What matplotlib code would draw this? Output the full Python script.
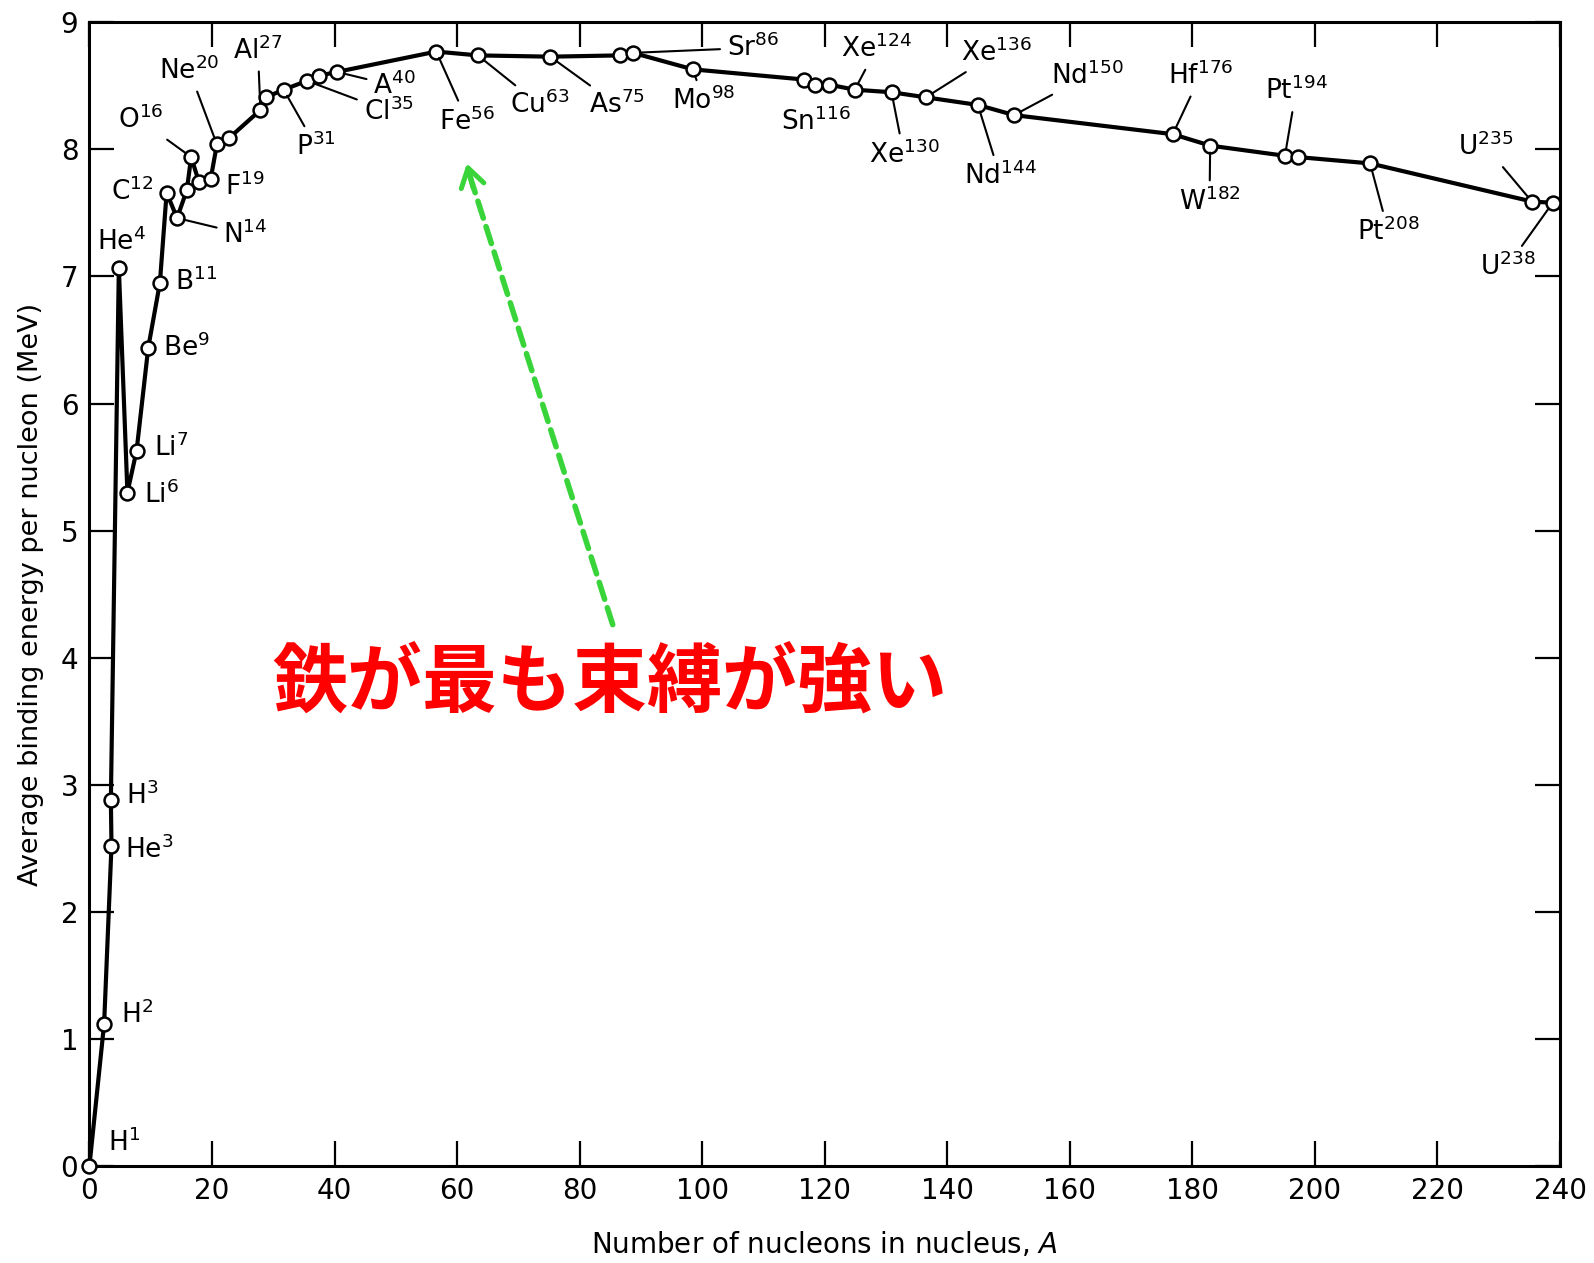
import matplotlib
matplotlib.use("Agg")
import matplotlib.pyplot as plt

plt.rcParams['font.family'] = ['DejaVu Sans']
plt.rcParams['mathtext.default'] = 'regular'

# nucleons A and binding energy per nucleon (MeV)
A = [0, 2.4, 3.6, 3.5, 4.8, 6.2, 7.7, 9.6, 11.5, 12.6, 14.3, 15.9, 16.6, 17.9, 19.8,
     20.8, 22.8, 27.9, 28.8, 31.7, 35.5, 37.5, 40.4, 56.6, 63.4, 75.2, 86.6, 88.7,
     98.5, 116.6, 118.4, 120.7, 124.9, 130.9, 136.5, 145.0, 150.9, 176.8, 182.9,
     195.1, 197.2, 209.0, 235.4, 238.8]
BE = [0, 1.12, 2.52, 2.88, 7.07, 5.30, 5.63, 6.44, 6.95, 7.66, 7.46, 7.68, 7.94, 7.74, 7.77,
      8.04, 8.09, 8.31, 8.41, 8.47, 8.54, 8.58, 8.61, 8.77, 8.74, 8.73, 8.74, 8.76,
      8.63, 8.55, 8.51, 8.51, 8.47, 8.45, 8.41, 8.35, 8.27, 8.12, 8.03,
      7.95, 7.94, 7.89, 7.59, 7.58]

# label text, index of point, text position, leader line or not
labels = [
    ("H$^{1}$", 0, (5.6, 0.18), False),
    ("H$^{2}$", 1, (7.8, 1.19), False),
    ("He$^{3}$", 2, (9.8, 2.49), False),
    ("H$^{3}$", 3, (8.6, 2.91), False),
    ("He$^{4}$", 4, (5.3, 7.27), False),
    ("Li$^{6}$", 5, (11.8, 5.28), False),
    ("Li$^{7}$", 6, (13.3, 5.65), False),
    ("Be$^{9}$", 7, (15.9, 6.44), False),
    ("B$^{11}$", 8, (17.4, 6.96), False),
    ("C$^{12}$", 9, (7.0, 7.67), False),
    ("N$^{14}$", 10, (25.5, 7.33), True),
    ("O$^{16}$", 12, (8.3, 8.23), True),
    ("F$^{19}$", 14, (25.4, 7.71), False),
    ("Ne$^{20}$", 15, (16.3, 8.62), True),
    ("Al$^{27}$", 17, (27.5, 8.78), True),
    ("P$^{31}$", 19, (37.0, 8.02), True),
    ("Cl$^{35}$", 20, (48.8, 8.30), True),
    ("A$^{40}$", 22, (49.8, 8.50), True),
    ("Fe$^{56}$", 23, (61.7, 8.22), True),
    ("Cu$^{63}$", 24, (73.5, 8.35), True),
    ("As$^{75}$", 25, (86.1, 8.35), True),
    ("Sr$^{86}$", 27, (108.3, 8.80), True),
    ("Mo$^{98}$", 28, (100.2, 8.38), True),
    ("Sn$^{116}$", 30, (118.6, 8.22), False),
    ("Xe$^{124}$", 32, (128.4, 8.79), True),
    ("Xe$^{130}$", 33, (132.9, 7.96), True),
    ("Xe$^{136}$", 34, (148.0, 8.76), True),
    ("Nd$^{144}$", 35, (148.6, 7.79), True),
    ("Nd$^{150}$", 36, (162.9, 8.58), True),
    ("Hf$^{176}$", 37, (181.3, 8.58), True),
    ("W$^{182}$", 38, (182.8, 7.59), True),
    ("Pt$^{194}$", 39, (196.9, 8.46), True),
    ("Pt$^{208}$", 41, (212.0, 7.35), True),
    ("U$^{235}$", 42, (227.9, 8.02), True),
    ("U$^{238}$", 43, (231.4, 7.08), True),
]

fig = plt.figure(figsize=(15.94, 12.63), dpi=100)
ax = fig.add_axes([0.0561, 0.0768, 0.9226, 0.9055])

ax.plot(A, BE, color='black', lw=3.0, zorder=3, solid_joinstyle='round')
ax.plot(A, BE, 'o', ms=10, mfc='white', mec='black', mew=1.8, zorder=4, clip_on=False)

for txt, i, pos, lead in labels:
    if lead:
        ax.annotate(txt, xy=(A[i], BE[i]), xytext=pos, ha='center', va='center',
                    fontsize=19, zorder=5,
                    arrowprops=dict(arrowstyle='-', color='black', lw=1.5,
                                    shrinkA=3, shrinkB=5))
    else:
        ax.text(pos[0], pos[1], txt, ha='center', va='center', fontsize=19, zorder=5)

# green arrow and note
green = '#38d43a'
ax.annotate('', xy=(61.9, 7.82), xytext=(85.4, 4.26),
            arrowprops=dict(arrowstyle='-', color=green, lw=4.0,
                            linestyle=(0, (3.2, 1.6)), shrinkA=0, shrinkB=0))
ax.annotate('', xy=(61.6, 7.89), xytext=(62.6, 7.70),
            arrowprops=dict(arrowstyle='->,head_length=0.6,head_width=0.38',
                            color=green, lw=3.6, mutation_scale=22,
                            shrinkA=0, shrinkB=0))
ax.text(84.9, 3.80, '鉄が最も束縛が強い', color='#ff0000', fontsize=54,
        fontweight='bold', family=['Noto Sans CJK JP'], ha='center', va='center')

ax.set_xlim(0, 240)
ax.set_ylim(0, 9)
ax.set_xticks(range(0, 241, 20))
ax.set_yticks(range(0, 10))
ax.tick_params(direction='in', length=18, width=1.6, top=True, right=True,
               labelsize=20, pad=8)
for s in ax.spines.values():
    s.set_linewidth(2.2)
ax.set_xlabel('Number of nucleons in nucleus, $\\it{A}$', fontsize=20, labelpad=18)
ax.set_ylabel('Average binding energy per nucleon (MeV)', fontsize=19.5, labelpad=12)

fig.savefig('out.png', dpi=100)
